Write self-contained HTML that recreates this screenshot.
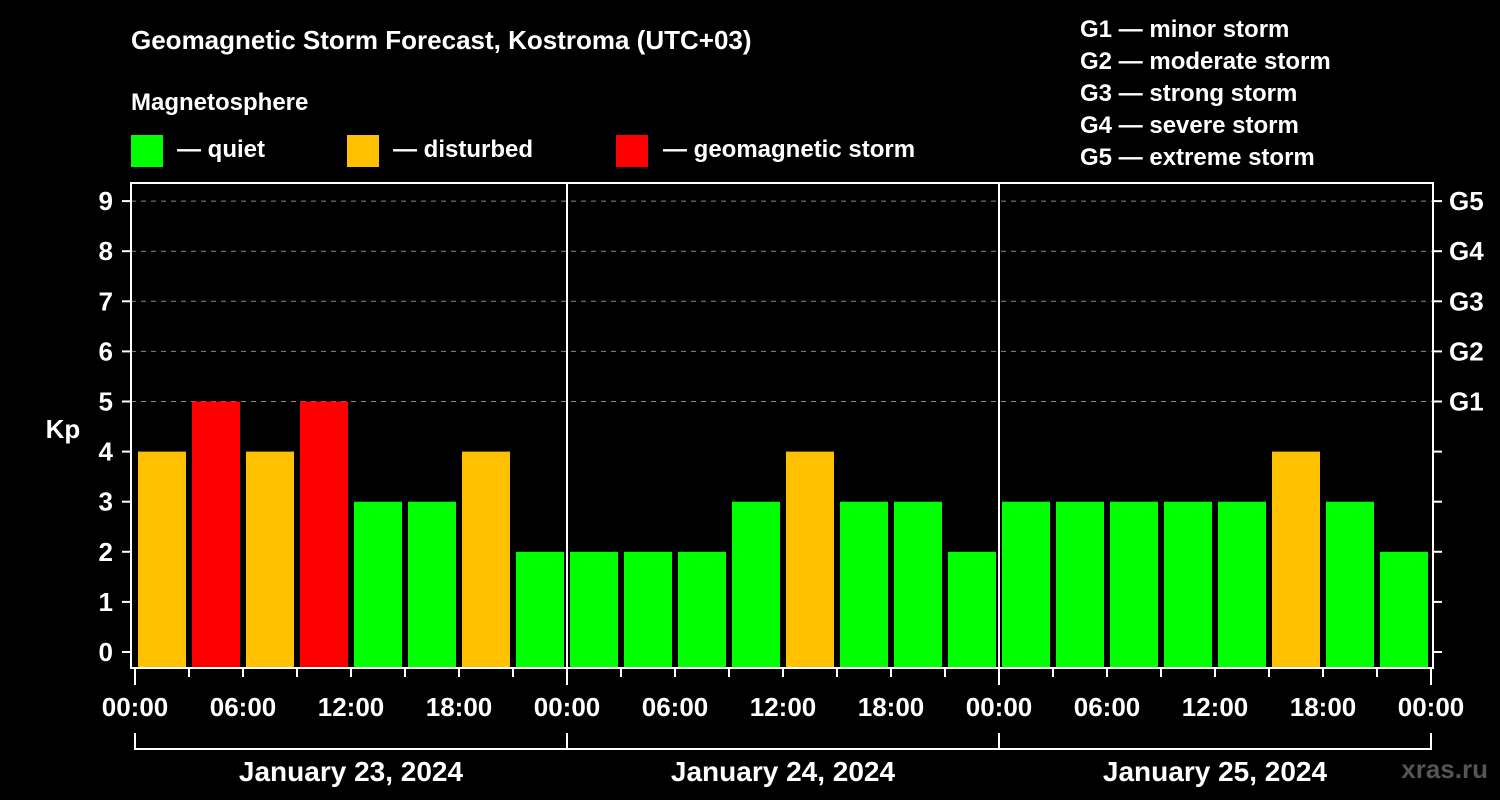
<!DOCTYPE html>
<html><head><meta charset="utf-8"><style>
html,body{margin:0;padding:0;background:#000;}
svg{display:block;font-family:"Liberation Sans",Arial,sans-serif;font-weight:bold;}
</style></head><body>
<svg id="chart" width="1500" height="800" viewBox="0 0 1500 800">
<rect x="0" y="0" width="1500" height="800" fill="#000"/>
<text x="131" y="49" fill="#fff" font-size="26">Geomagnetic Storm Forecast, Kostroma (UTC+03)</text>
<text x="131" y="110" fill="#fff" font-size="24">Magnetosphere</text>
<g><rect x="131" y="135" width="32" height="32" fill="#00ff00"/><text x="177" y="157" fill="#fff" font-size="24">— quiet</text></g>
<g><rect x="347" y="135" width="32" height="32" fill="#ffc000"/><text x="393" y="157" fill="#fff" font-size="24">— disturbed</text></g>
<g><rect x="616" y="135" width="32" height="32" fill="#ff0000"/><text x="663" y="157" fill="#fff" font-size="24">— geomagnetic storm</text></g>
<g fill="#fff" font-size="24">
<text x="1080" y="37">G1 — minor storm</text>
<text x="1080" y="69">G2 — moderate storm</text>
<text x="1080" y="101">G3 — strong storm</text>
<text x="1080" y="133">G4 — severe storm</text>
<text x="1080" y="165">G5 — extreme storm</text>
</g>
<text x="63" y="438" fill="#fff" font-size="26" text-anchor="middle">Kp</text>
<text x="1488" y="778" fill="#555" font-size="26" text-anchor="end">xras.ru</text>
<g id="grid"></g>
<g id="bars"></g>
<g id="axes"></g>
</svg>
<script>
const kpValues=[4,5,4,5,3,3,4,2, 2,2,2,3,4,3,3,2, 3,3,3,3,3,4,3,2];
const kpTicks=[0,1,2,3,4,5,6,7,8,9];
const gLabels=["G1","G2","G3","G4","G5"];
const timeLabels=["00:00","06:00","12:00","18:00"];
const dayLabels=["January 23, 2024","January 24, 2024","January 25, 2024"];
const NS="http://www.w3.org/2000/svg";
const X0=135, SLOT=54, Y0=652, UNIT=50.1, BASE=667, L=131, R=1433, T=183, B=668;
const xs=i=>X0+SLOT*i;
const ys=v=>Y0-UNIT*v;
function mk(tag,attrs,parent){const e=document.createElementNS(NS,tag);for(const k in attrs)e.setAttribute(k,attrs[k]);parent.appendChild(e);return e;}
const grid=document.getElementById('grid'),bars=document.getElementById('bars'),axes=document.getElementById('axes');
kpTicks.forEach(v=>{
  if(v>=5){const g=mk('line',{x1:L,x2:R,y1:ys(v),y2:ys(v),stroke:'#888','stroke-dasharray':'5,5','stroke-width':1},grid);
  
  }
  const t=mk('text',{x:113,y:ys(v)+9,fill:'#fff','font-size':26,'text-anchor':'end'},axes);t.textContent=v;
  
  
  mk('line',{x1:122,x2:L,y1:ys(v),y2:ys(v),stroke:'#fff','stroke-width':2},axes);
  mk('line',{x1:R,x2:1442,y1:ys(v),y2:ys(v),stroke:'#fff','stroke-width':2},axes);
});
gLabels.forEach((g,i)=>{const t=mk('text',{x:1449,y:ys(5+i)+9,fill:'#fff','font-size':26},axes);t.textContent=g;
  
  });
kpValues.forEach((v,i)=>{
  const c=v>=5?'#ff0000':(v>=4?'#ffc000':'#00ff00');
  const b=mk('rect',{x:xs(i)+3,y:ys(v),width:SLOT-6,height:BASE-ys(v),fill:c},bars);
  
  
});
mk('rect',{x:L,y:T,width:R-L,height:B-T,fill:'none',stroke:'#fff','stroke-width':2},axes);
for(let d=1;d<dayLabels.length;d++){mk('line',{x1:xs(8*d),x2:xs(8*d),y1:T,y2:B,stroke:'#fff','stroke-width':2},axes);}
for(let i=0;i<=kpValues.length;i++){
  const x=i===0?X0:(i===kpValues.length?R-2:xs(i));
  mk('line',{x1:x,x2:x,y1:B,y2:i%8===0?685:677,stroke:'#fff','stroke-width':2},axes);
  if(i%2===0){const t=mk('text',{x:x,y:716,fill:'#fff','font-size':26,'text-anchor':'middle'},axes);
    t.textContent=i===kpValues.length?timeLabels[0]:timeLabels[(i/2)%4];
    
    }
}
mk('line',{x1:X0,x2:R-2,y1:749,y2:749,stroke:'#fff','stroke-width':2},axes);
for(let d=0;d<=dayLabels.length;d++){const x=d===dayLabels.length?R-2:xs(8*d);mk('line',{x1:x,x2:x,y1:733,y2:750,stroke:'#fff','stroke-width':2},axes);}
dayLabels.forEach((s,d)=>{const t=mk('text',{x:xs(8*d)+SLOT*4,y:781,fill:'#fff','font-size':28,'text-anchor':'middle'},axes);t.textContent=s;
  
  });
</script>
</body></html>
